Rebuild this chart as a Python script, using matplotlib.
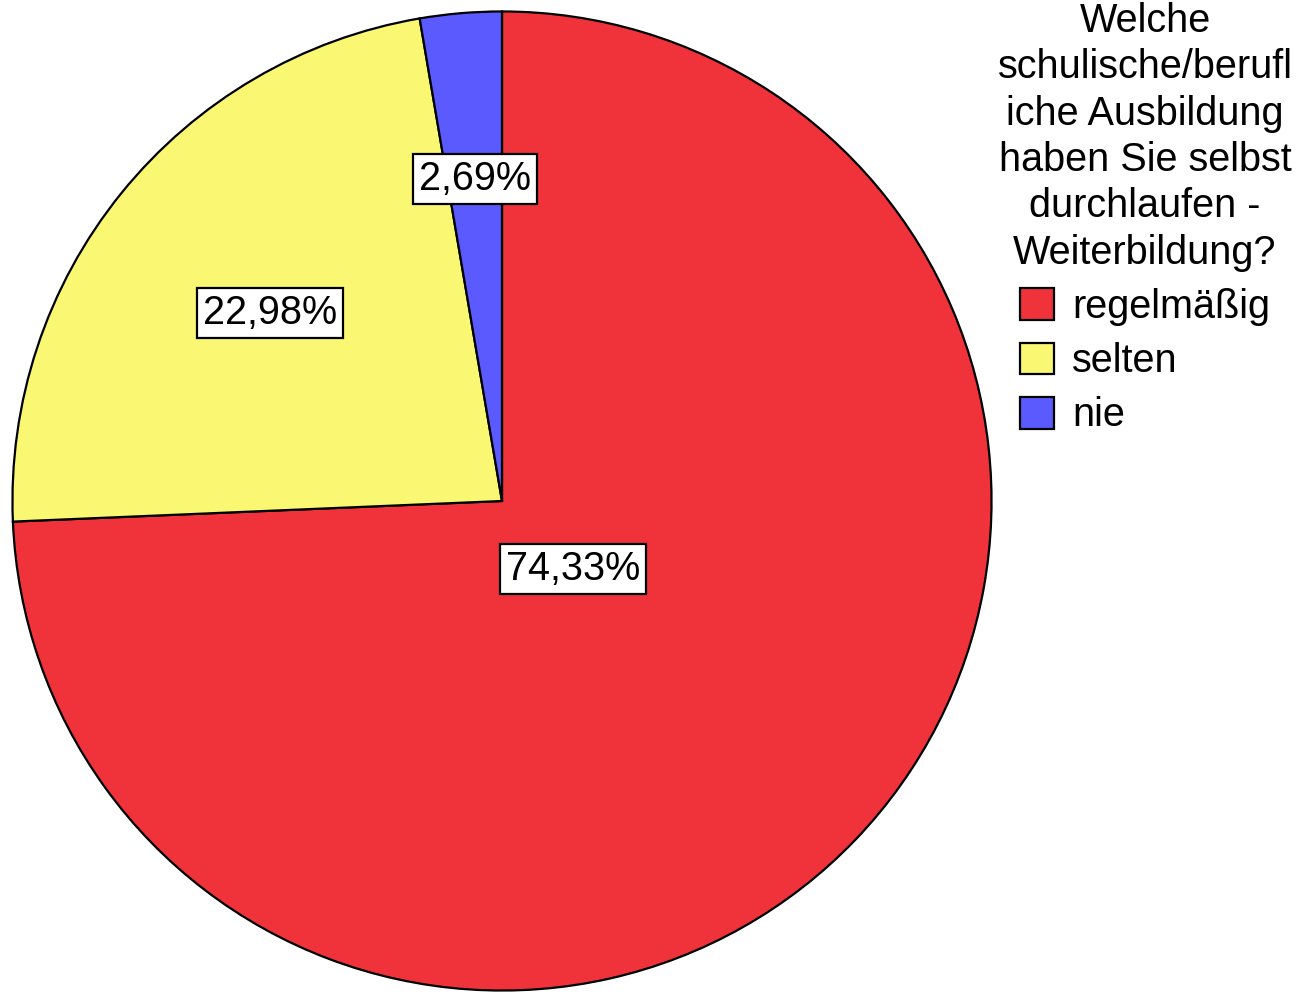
import numpy as np
import matplotlib.pyplot as plt

plt.rcParams['font.family'] = ['Liberation Sans', 'DejaVu Sans']

# Daten
kategorien = ["regelmäßig", "selten", "nie"]
anteile = [74.33, 22.98, 2.69]
beschriftungen = ["74,33%", "22,98%", "2,69%"]
farben = ["#f0323a", "#faf872", "#5a5aff"]
titel = "Welche\nschulische/berufl\niche Ausbildung\nhaben Sie selbst\ndurchlaufen -\nWeiterbildung?"

# Abstand der Beschriftung vom Mittelpunkt (Anteil am Radius)
label_abstand = [0.2, 0.61, 0.66]

W, H = 1303, 992
fig = plt.figure(figsize=(W / 100, H / 100), dpi=100)
cx, cy, r = 502, 501, 491
ax = fig.add_axes([(cx - r) / W, (H - cy - r) / H, 2 * r / W, 2 * r / H])

wedges, _ = ax.pie(anteile, colors=farben, startangle=90, counterclock=False,
                   wedgeprops=dict(edgecolor="black", linewidth=1.6))
ax.set_xlim(-1.003, 1.003)
ax.set_ylim(-1.003, 1.003)
ax.set_aspect("equal")

for w, txt, d in zip(wedges, beschriftungen, label_abstand):
    mid = np.deg2rad((w.theta1 + w.theta2) / 2)
    ax.text(d * np.cos(mid), d * np.sin(mid), txt, ha="center", va="center",
            fontsize=28.5,
            bbox=dict(boxstyle="square,pad=0.15", fc="white", ec="black", lw=1.6))

leg = fig.legend(wedges, kategorien, title=titel, loc="upper center",
                 bbox_to_anchor=(1145 / W, 1.0 + 18 / H), frameon=False,
                 fontsize=28.5, title_fontsize=28.5, handlelength=0.86,
                 handleheight=0.86, handletextpad=0.45, labelspacing=0.41,
                 borderpad=0.0)
leg.get_title().set_multialignment("center")
leg.get_title().set_linespacing(1.28)
for h in leg.legend_handles:
    h.set_linewidth(1.6)

fig.savefig("out.png", dpi=100)
